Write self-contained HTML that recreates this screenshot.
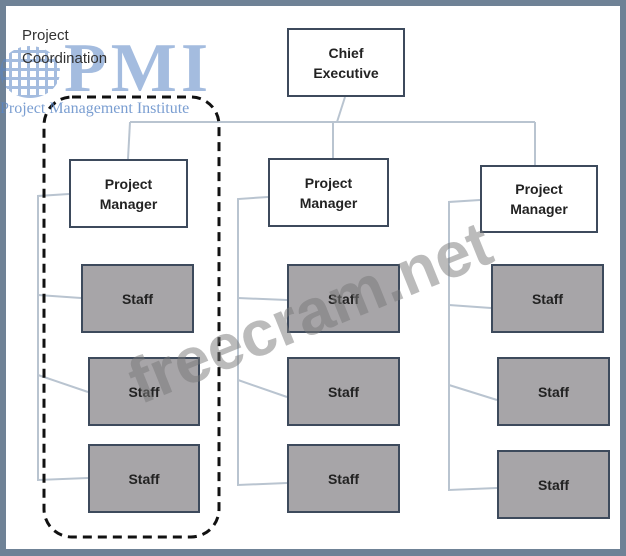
<!DOCTYPE html>
<html><head><style>
body{margin:0;width:626px;height:556px;background:#6f8296;position:relative;overflow:hidden;font-family:"Liberation Sans",sans-serif}
.in{position:absolute;left:6px;top:6px;width:614px;height:543px;background:#fff}
.b{position:absolute;box-sizing:border-box;border:2px solid #3d4a5c;display:flex;align-items:center;justify-content:center;text-align:center;font-weight:bold;font-size:14px;color:#222;line-height:20px}
.w{background:#fff}.g{background:#a7a5a8}
</style></head><body>
<div class="in"></div>
<svg style="position:absolute;left:0;top:0" width="626" height="556">
<g stroke="#b9c4d0" stroke-width="2" fill="none">
<line x1="345" y1="97" x2="337" y2="122"/>
<line x1="130" y1="122" x2="535" y2="122"/>
<line x1="130" y1="122" x2="128" y2="159"/>
<line x1="333" y1="122" x2="333" y2="158"/>
<line x1="535" y1="122" x2="535" y2="165"/>
<polyline points="69,194 38,196 38,480 88,478"/>
<line x1="38" y1="295" x2="81" y2="298"/><line x1="38" y1="375" x2="88" y2="392"/>
<polyline points="268,197 238,199 238,485 287,483"/>
<line x1="238" y1="298" x2="287" y2="300"/><line x1="238" y1="380" x2="287" y2="397"/>
<polyline points="480,200 449,202 449,490 497,488"/>
<line x1="449" y1="305" x2="491" y2="308"/><line x1="449" y1="385" x2="497" y2="400"/>
</g>
<rect x="44" y="97" width="175" height="440" rx="28" fill="none" stroke="#111" stroke-width="3" stroke-dasharray="9,6"/>
</svg>
<div style="position:absolute;left:0;top:44px;width:200px;height:56px;opacity:.55">
<div style="position:absolute;left:0;top:2px;width:60px;height:52px;border-radius:50%;background:repeating-linear-gradient(90deg,#5a86c6 0 3px,transparent 3px 9px),repeating-linear-gradient(0deg,#5a86c6 0 3px,transparent 3px 9px)"></div>
<div style="position:absolute;left:64px;top:-10px;font:bold 70px 'Liberation Serif',serif;color:#5a86c6;letter-spacing:4px;line-height:70px">PMI</div>
</div>
<div style="position:absolute;left:22px;top:24px;font-size:15px;color:#333;line-height:23px">Project<br>Coordination</div>
<div style="position:absolute;left:0;top:100px;font:16px 'Liberation Serif',serif;color:#5a86c6;opacity:.8">Project Management Institute</div>
<div class="b w" style="left:287px;top:28px;width:118px;height:69px">Chief<br>Executive</div>
<div class="b w" style="left:69px;top:159px;width:119px;height:69px">Project<br>Manager</div>
<div class="b w" style="left:268px;top:158px;width:121px;height:69px">Project<br>Manager</div>
<div class="b w" style="left:480px;top:165px;width:118px;height:68px">Project<br>Manager</div>
<div class="b g" style="left:81px;top:264px;width:113px;height:69px">Staff</div>
<div class="b g" style="left:88px;top:357px;width:112px;height:69px">Staff</div>
<div class="b g" style="left:88px;top:444px;width:112px;height:69px">Staff</div>
<div class="b g" style="left:287px;top:264px;width:113px;height:69px">Staff</div>
<div class="b g" style="left:287px;top:357px;width:113px;height:69px">Staff</div>
<div class="b g" style="left:287px;top:444px;width:113px;height:69px">Staff</div>
<div class="b g" style="left:491px;top:264px;width:113px;height:69px">Staff</div>
<div class="b g" style="left:497px;top:357px;width:113px;height:69px">Staff</div>
<div class="b g" style="left:497px;top:450px;width:113px;height:69px">Staff</div>
<div style="position:absolute;left:118px;top:350px;font-weight:bold;font-size:64px;color:rgba(120,120,120,.5);transform:rotate(-22deg);transform-origin:0 0;white-space:nowrap">freecram.net</div>
</body></html>
